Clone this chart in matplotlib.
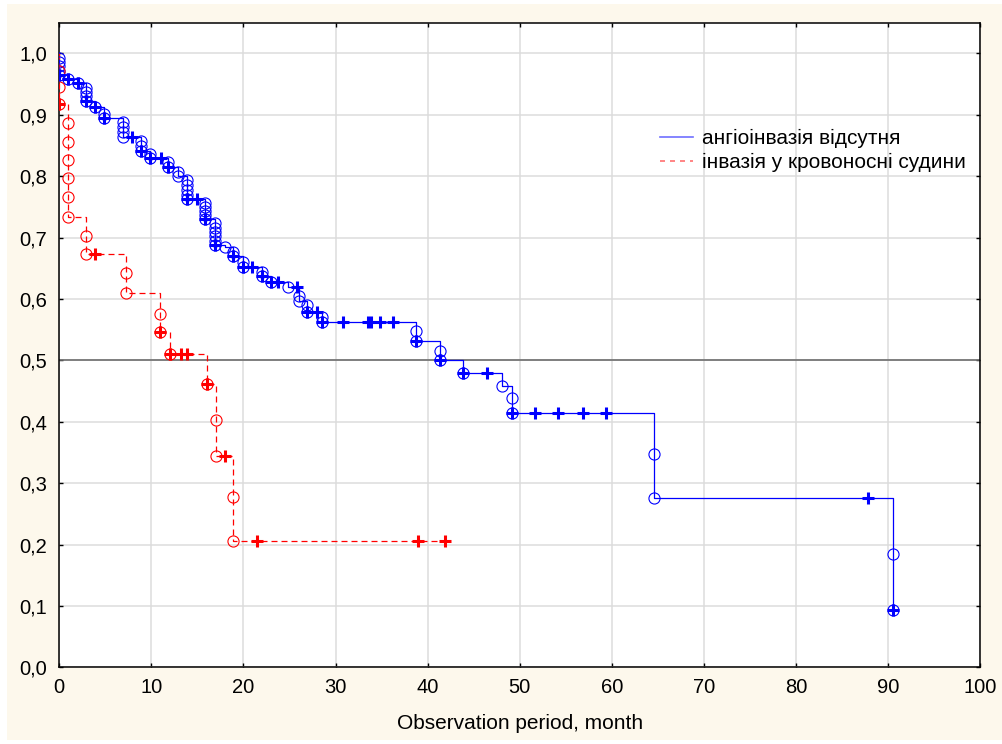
import numpy as np
import matplotlib.pyplot as plt
from matplotlib.lines import Line2D
from matplotlib.patches import Rectangle

plt.rcParams['font.family'] = ['Liberation Sans', 'DejaVu Sans']

# angioinvasion absent (blue): event times and survival levels after each event
blue_times = [0, 0.95, 2.0, 2.9, 3.9, 4.85, 6.9, 8.9, 9.85, 11.8, 12.9, 13.9, 15.8,
              16.9, 18.0, 18.9, 19.9, 22.0, 23.0, 24.8, 26.0, 26.9, 28.5, 38.7,
              41.4, 43.9, 48.1, 49.2, 64.6, 90.5]
blue_levels = [[0.993, 0.986, 0.979, 0.972, 0.965], [0.958], [0.951],
               [0.944, 0.937, 0.930, 0.923], [0.913], [0.902, 0.895],
               [0.888, 0.880, 0.872, 0.864], [0.857, 0.849, 0.841], [0.836, 0.829],
               [0.823, 0.815], [0.806, 0.800], [0.794, 0.786, 0.778, 0.770, 0.763],
               [0.757, 0.750, 0.743, 0.736, 0.730],
               [0.723, 0.716, 0.709, 0.702, 0.695, 0.688], [0.684], [0.677, 0.670],
               [0.660, 0.652], [0.644, 0.637], [0.628], [0.619], [0.605, 0.596],
               [0.590, 0.578], [0.570, 0.562], [0.547, 0.531], [0.516, 0.500],
               [0.480], [0.458], [0.438, 0.415], [0.348, 0.276], [0.185, 0.093]]
blue_cens = [0, 0.95, 2.0, 2.9, 3.9, 4.85, 7.9, 8.9, 9.85, 11.0, 11.8, 13.9, 15.0,
             15.8, 16.9, 18.9, 19.9, 20.9, 22.0, 23.0, 23.8, 25.8, 26.9, 28.0, 28.5,
             30.8, 33.5, 33.9, 34.8, 36.2, 38.7, 41.4, 43.9, 46.4, 49.2, 51.7, 54.2,
             56.9, 59.4, 87.8, 90.5]

# invasion into blood vessels (red)
red_times = [0, 0.98, 2.9, 7.2, 10.9, 12.0, 16.0, 17.0, 18.9]
red_levels = [[0.971, 0.945, 0.918], [0.886, 0.856, 0.827, 0.797, 0.766, 0.734],
              [0.702, 0.673], [0.642, 0.610], [0.576, 0.546], [0.510], [0.461],
              [0.403, 0.344], [0.277, 0.206]]
red_cens = [0, 3.9, 10.9, 12.0, 13.2, 13.9, 16.0, 18.0, 21.5, 39.0, 41.9]

labels = ['ангіоінвазія відсутня', 'інвазія у кровоносні судини']
xticks = np.arange(0, 101, 10)
yticks = np.arange(0, 1.01, 0.1)


def km_draw(ax, times, levels, cens, color, ls):
    et = np.concatenate([[t] * len(l) for t, l in zip(times, levels)])
    es = np.concatenate(levels)
    end = max(et.max(), max(cens))
    x = np.concatenate([[0], et, [end]])
    y = np.concatenate([[1.0], es, [es[-1]]])
    ax.step(x, y, where='post', color=color, lw=0.9, ls=ls, zorder=3)
    ax.plot(et, es, 'o', mfc='none', mec=color, ms=8, mew=0.8, zorder=4)
    idx = np.searchsorted(et, cens, side='right') - 1
    cs = np.where(idx >= 0, es[np.clip(idx, 0, None)], 1.0)
    ax.plot(cens, cs, '+', color=color, ms=9, mew=2.2, zorder=5)


fig = plt.figure(figsize=(10.02, 7.44), dpi=100)
fig.patches.append(Rectangle((7 / 1002, 4 / 744), 995 / 1002, 736 / 744,
                             transform=fig.transFigure, facecolor='#fdf8ec',
                             edgecolor='none', zorder=-10))
ax = fig.add_axes([59.3 / 1002, 1 - 667.3 / 744, 920.7 / 1002, 644 / 744])
ax.set_facecolor('white')

km_draw(ax, blue_times, blue_levels, blue_cens, 'blue', '-')
km_draw(ax, red_times, red_levels, red_cens, 'red', (0, (4.8, 3.2)))

ax.axhline(0.5, color='#6e6e6e', lw=1.2, zorder=2)
ax.set_xlim(0, 100)
ax.set_ylim(0, 1.049)
ax.set_xticks(xticks)
ax.set_yticks(yticks)
ax.set_yticklabels([f'{v:.1f}'.replace('.', ',') for v in yticks])
ax.grid(True, color='#dcdcdc', lw=1.1, zorder=0)
ax.set_axisbelow(True)
ax.tick_params(direction='in', length=3, width=1, top=True, right=True,
               labelsize=14.5, colors='black')
ax.tick_params(axis='y', pad=9)
ax.tick_params(axis='x', pad=8)
for sp in ax.spines.values():
    sp.set_linewidth(1.1)
ax.set_xlabel('Observation period, month', fontsize=15, labelpad=12)

handles = [Line2D([], [], color='#6f6fff', lw=1.2),
           Line2D([], [], color='#ff7070', lw=1.2, ls=(0, (3, 3)))]
ax.legend(handles, labels, loc='center left', bbox_to_anchor=(0.632, 0.802),
          frameon=False, fontsize=15, handlelength=1.6, handletextpad=0.4,
          labelspacing=0.25)

fig.savefig('out.png', dpi=100)
